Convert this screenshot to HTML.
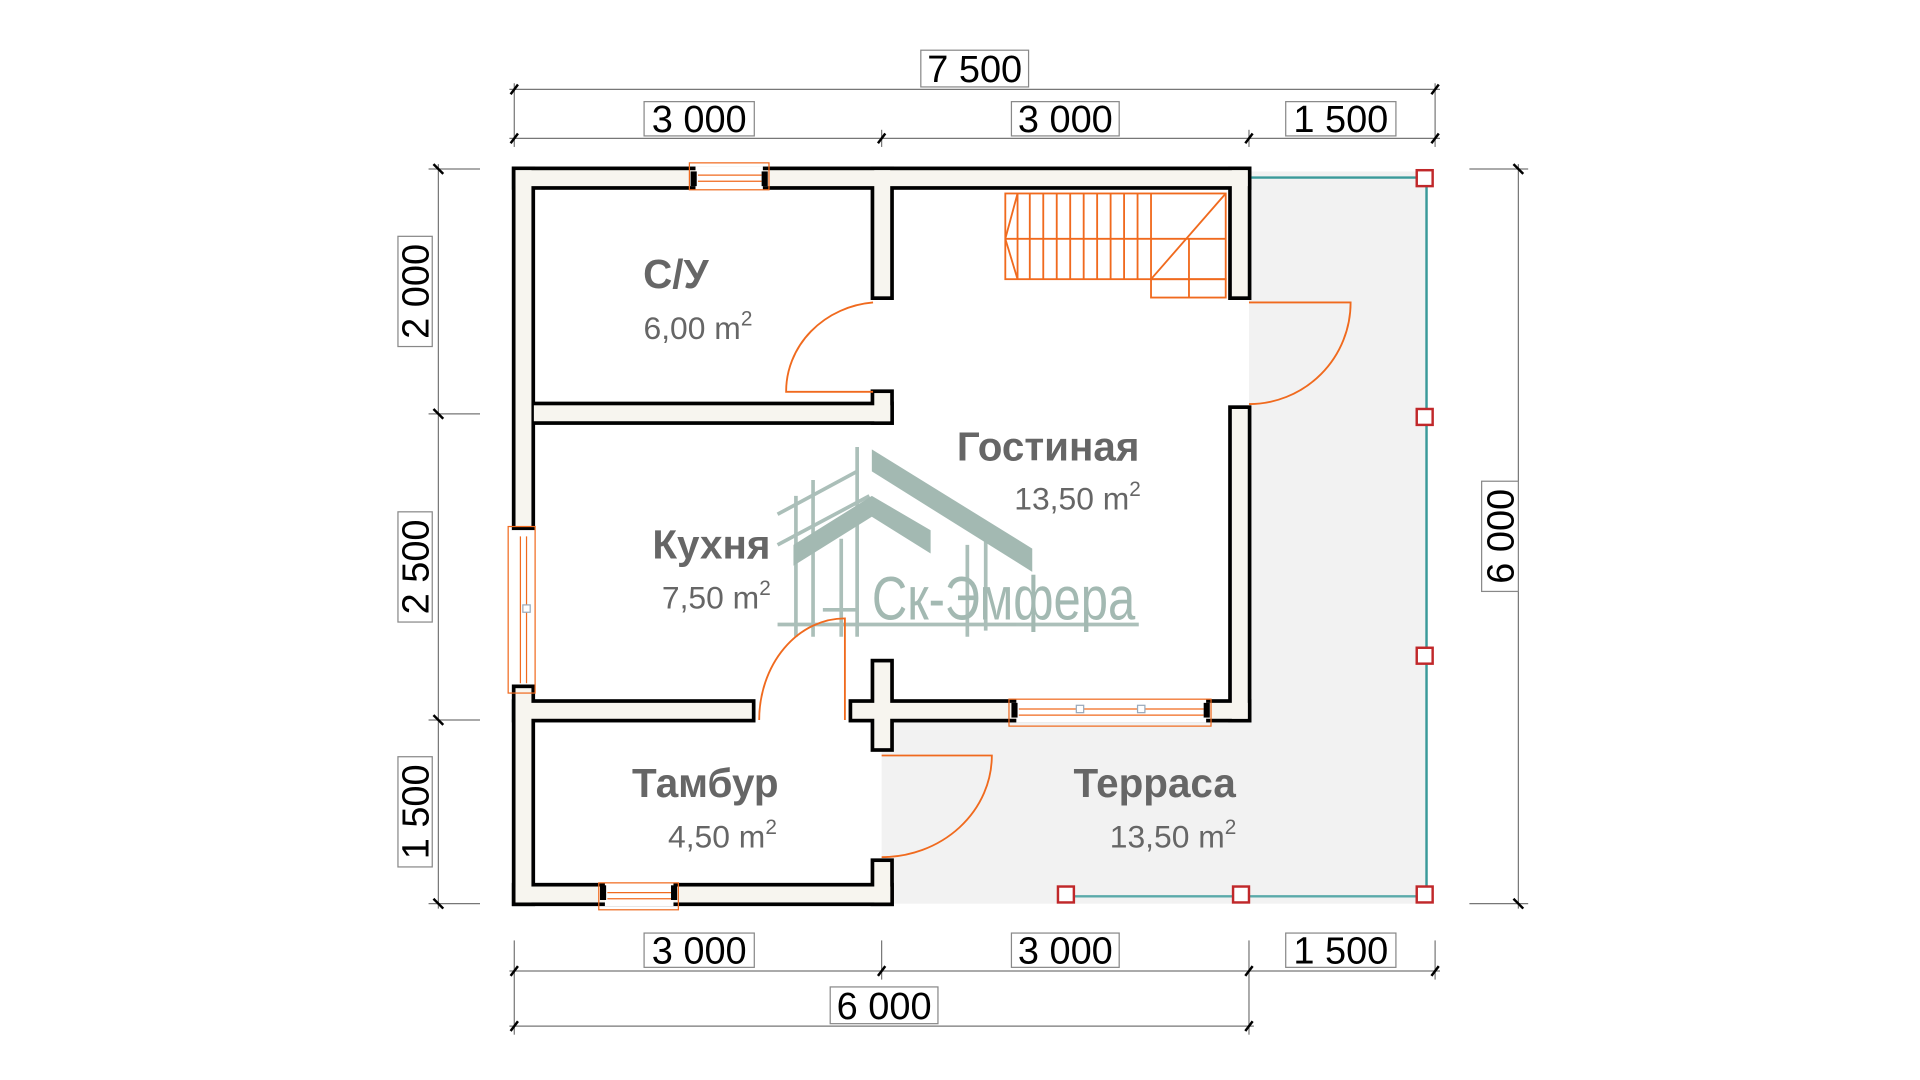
<!DOCTYPE html>
<html><head><meta charset="utf-8"><style>
html,body{margin:0;padding:0;background:#fff;}
svg{display:block;}
text{font-family:"Liberation Sans",sans-serif;}
</style></head><body>
<svg width="1920" height="1080" viewBox="0 0 1568 882" xmlns="http://www.w3.org/2000/svg">
<rect x="1020" y="140" width="145" height="598" fill="#f2f2f2"/>
<rect x="720" y="588" width="300" height="150" fill="#f2f2f2"/>

<g stroke="#a3b9b2" fill="none" opacity="0.9">
<line x1="650" y1="405" x2="650" y2="520" stroke-width="3"/>
<line x1="664" y1="392" x2="664" y2="520" stroke-width="3"/>
<line x1="700" y1="365" x2="700" y2="520" stroke-width="3"/>
<line x1="635" y1="420" x2="700" y2="385" stroke-width="3"/>
<line x1="635" y1="445" x2="710" y2="405" stroke-width="3"/>
<line x1="672" y1="498" x2="700" y2="498" stroke-width="3"/>
<line x1="790" y1="445" x2="790" y2="520" stroke-width="3"/>
<line x1="805" y1="440" x2="805" y2="515" stroke-width="3"/>
<line x1="635" y1="510" x2="930" y2="510" stroke-width="3"/>
<line x1="687" y1="440" x2="687" y2="520" stroke-width="3"/>
</g>
<polygon points="648,445 712,405 760,433 760,452 712,422 648,462" fill="#a3b9b2"/>
<polygon points="712,367 843,448 843,467 712,385" fill="#a3b9b2"/>
<text x="712" y="506" font-size="50" fill="#a3b9b2" transform="translate(712 0) scale(0.8 1) translate(-712 0)">Ск-Эмфера</text>

<g fill="#000">
<rect x="418" y="136" width="604" height="19"/>
<rect x="418" y="136" width="19" height="297"/>
<rect x="418" y="559" width="19" height="181"/>
<rect x="1003" y="136" width="19" height="109"/>
<rect x="1003" y="331" width="19" height="259"/>
<rect x="418" y="721" width="312" height="19"/>
<rect x="711" y="701" width="19" height="39"/>
<rect x="711" y="136" width="19" height="109"/>
<rect x="433" y="328" width="297" height="19"/>
<rect x="711" y="318" width="19" height="29"/>
<rect x="418" y="571" width="199" height="19"/>
<rect x="693" y="571" width="329" height="19"/>
<rect x="711" y="538" width="19" height="76"/>
</g>
<g fill="#f7f5ef">
<rect x="421" y="139" width="598" height="13"/>
<rect x="421" y="139" width="13" height="291"/>
<rect x="421" y="562" width="13" height="175"/>
<rect x="1006" y="139" width="13" height="103"/>
<rect x="1006" y="334" width="13" height="253"/>
<rect x="421" y="724" width="306" height="13"/>
<rect x="714" y="704" width="13" height="33"/>
<rect x="714" y="139" width="13" height="103"/>
<rect x="436" y="331" width="291" height="13"/>
<rect x="714" y="321" width="13" height="23"/>
<rect x="421" y="574" width="193" height="13"/>
<rect x="696" y="574" width="323" height="13"/>
<rect x="714" y="541" width="13" height="70"/>
</g>
<g>
<rect x="568" y="136" width="55" height="19" fill="#fff"/>
<rect x="563" y="133" width="65" height="22" fill="none" stroke="#f06a1e" stroke-width="1"/>
<line x1="570" y1="143" x2="622" y2="143" stroke="#f06a1e"/><line x1="570" y1="148" x2="622" y2="148" stroke="#f06a1e"/>
<rect x="564" y="140" width="5" height="12" fill="#000"/><rect x="622" y="140" width="5" height="12" fill="#000"/>

<rect x="418" y="433" width="19" height="126" fill="#fff"/>
<rect x="415" y="430" width="22" height="136" fill="none" stroke="#f06a1e"/>
<line x1="425" y1="438" x2="425" y2="558" stroke="#f06a1e"/><line x1="430" y1="438" x2="430" y2="558" stroke="#f06a1e"/>
<rect x="427" y="494" width="6" height="6" fill="#fff" stroke="#9ab"/>

<rect x="494" y="721" width="56" height="19" fill="#fff"/>
<rect x="489" y="721" width="65" height="22" fill="none" stroke="#f06a1e"/>
<line x1="496" y1="729" x2="548" y2="729" stroke="#f06a1e"/><line x1="496" y1="734" x2="548" y2="734" stroke="#f06a1e"/>
<rect x="490" y="723" width="5" height="12" fill="#000"/><rect x="548" y="723" width="5" height="12" fill="#000"/>

<rect x="830" y="571" width="155" height="19" fill="#fff"/>
<rect x="824" y="571" width="165" height="22" fill="none" stroke="#f06a1e"/>
<line x1="832" y1="579" x2="983" y2="579" stroke="#f06a1e"/><line x1="832" y1="584" x2="983" y2="584" stroke="#f06a1e"/>
<rect x="826" y="574" width="5" height="12" fill="#000"/><rect x="983" y="574" width="5" height="12" fill="#000"/>
<rect x="879" y="576" width="6" height="6" fill="#fff" stroke="#9ab"/><rect x="929" y="576" width="6" height="6" fill="#fff" stroke="#9ab"/>
</g>
<g stroke="#f06a1e" stroke-width="1.5" fill="none">
<path d="M713 247 A78 73 0 0 0 642 320 L713 320"/>
<path d="M1020 247 L1103 247 A83 83 0 0 1 1020 330"/>
<path d="M620 588 A70 83 0 0 1 690 505 L690 588"/>
<path d="M720 617 L810 617 A90 83 0 0 1 720 700"/>
</g>
<g stroke="#f06a1e" stroke-width="1.5" fill="none">
<rect x="821" y="158" width="180" height="70"/>
<rect x="940" y="228" width="61" height="15"/>
<line x1="821" y1="195" x2="1001" y2="195"/>
<line x1="821" y1="195" x2="831" y2="158"/><line x1="821" y1="195" x2="831" y2="228"/>
<line x1="940" y1="228" x2="1001" y2="158"/>
<line x1="831" y1="158" x2="831" y2="228"/><line x1="841" y1="158" x2="841" y2="228"/>
<line x1="852" y1="158" x2="852" y2="228"/><line x1="863" y1="158" x2="863" y2="228"/>
<line x1="874" y1="158" x2="874" y2="228"/><line x1="885" y1="158" x2="885" y2="228"/>
<line x1="896" y1="158" x2="896" y2="228"/><line x1="907" y1="158" x2="907" y2="228"/>
<line x1="918" y1="158" x2="918" y2="228"/><line x1="929" y1="158" x2="929" y2="228"/>
<line x1="940" y1="158" x2="940" y2="228"/><line x1="971" y1="195" x2="971" y2="243"/>
</g>
<g stroke="#3a9a9a" stroke-width="2" fill="none">
<line x1="1022" y1="145" x2="1163" y2="145"/>
<line x1="1165" y1="145" x2="1165" y2="730"/>
<line x1="870" y1="732" x2="1165" y2="732" stroke="#5aaaaa"/>
</g>
<g fill="#fff" stroke="#c0282a" stroke-width="2">
<rect x="1157" y="139" width="13" height="13"/>
<rect x="1157" y="334" width="13" height="13"/>
<rect x="1157" y="529" width="13" height="13"/>
<rect x="1157" y="724" width="13" height="13"/>
<rect x="1007" y="724" width="13" height="13"/>
<rect x="864" y="724" width="13" height="13"/>
</g>
<g fill="#666" font-weight="bold" font-size="33" text-anchor="middle">
<text x="552" y="235">С/У</text>
<text x="856" y="376">Гостиная</text>
<text x="581" y="456">Кухня</text>
<text x="576" y="651">Тамбур</text>
<text x="943" y="651">Терраса</text>
</g>
<g fill="#666" font-size="26" text-anchor="middle">
<text x="570" y="277">6,00 m<tspan font-size="17" dy="-11">2</tspan></text>
<text x="880" y="416">13,50 m<tspan font-size="17" dy="-11">2</tspan></text>
<text x="585" y="497">7,50 m<tspan font-size="17" dy="-11">2</tspan></text>
<text x="590" y="692">4,50 m<tspan font-size="17" dy="-11">2</tspan></text>
<text x="958" y="692">13,50 m<tspan font-size="17" dy="-11">2</tspan></text>
</g>
<g stroke="#777" stroke-width="1" fill="none">
<line x1="416" y1="73" x2="1176" y2="73"/>
<line x1="416" y1="113" x2="1176" y2="113"/>
<line x1="420" y1="68" x2="420" y2="120"/><line x1="1172" y1="68" x2="1172" y2="120"/>
<line x1="720" y1="106" x2="720" y2="120"/><line x1="1020" y1="106" x2="1020" y2="120"/>
<line x1="416" y1="793" x2="1176" y2="793"/>
<line x1="416" y1="838" x2="1024" y2="838"/>
<line x1="420" y1="768" x2="420" y2="845"/><line x1="720" y1="768" x2="720" y2="800"/>
<line x1="1020" y1="768" x2="1020" y2="845"/><line x1="1172" y1="768" x2="1172" y2="800"/>
<line x1="358" y1="134" x2="358" y2="742"/>
<line x1="350" y1="138" x2="392" y2="138"/><line x1="350" y1="338" x2="392" y2="338"/>
<line x1="350" y1="588" x2="392" y2="588"/><line x1="350" y1="738" x2="392" y2="738"/>
<line x1="1240" y1="134" x2="1240" y2="742"/>
<line x1="1200" y1="138" x2="1248" y2="138"/><line x1="1200" y1="738" x2="1248" y2="738"/>
</g>
<g stroke="#000" stroke-width="2">
<line x1="417" y1="77" x2="423" y2="69"/><line x1="1169" y1="77" x2="1175" y2="69"/>
<line x1="417" y1="117" x2="423" y2="109"/><line x1="717" y1="117" x2="723" y2="109"/><line x1="1017" y1="117" x2="1023" y2="109"/><line x1="1169" y1="117" x2="1175" y2="109"/>
<line x1="417" y1="797" x2="423" y2="789"/><line x1="717" y1="797" x2="723" y2="789"/><line x1="1017" y1="797" x2="1023" y2="789"/><line x1="1169" y1="797" x2="1175" y2="789"/>
<line x1="417" y1="842" x2="423" y2="834"/><line x1="1017" y1="842" x2="1023" y2="834"/>
<line x1="354" y1="134" x2="362" y2="142"/><line x1="354" y1="334" x2="362" y2="342"/><line x1="354" y1="584" x2="362" y2="592"/><line x1="354" y1="734" x2="362" y2="742"/>
<line x1="1236" y1="134" x2="1244" y2="142"/><line x1="1236" y1="734" x2="1244" y2="742"/>
</g>
<g fill="#fff" stroke="#888" stroke-width="1">
<rect x="752" y="41" width="88" height="30"/>
<rect x="526" y="83" width="90" height="28"/><rect x="826" y="83" width="88" height="28"/><rect x="1050" y="83" width="90" height="28"/>
<rect x="526" y="762" width="90" height="28"/><rect x="826" y="762" width="88" height="28"/><rect x="1050" y="762" width="90" height="28"/>
<rect x="678" y="806" width="88" height="30"/>
<rect x="325" y="193" width="28" height="90"/><rect x="325" y="418" width="28" height="90"/><rect x="325" y="618" width="28" height="90"/>
<rect x="1210" y="393" width="30" height="90"/>
</g>
<g fill="#000" font-size="31" text-anchor="middle">
<text x="796" y="67">7 500</text>
<text x="571" y="108">3 000</text><text x="870" y="108">3 000</text><text x="1095" y="108">1 500</text>
<text x="571" y="787">3 000</text><text x="870" y="787">3 000</text><text x="1095" y="787">1 500</text>
<text x="722" y="832">6 000</text>
<text transform="translate(350 238) rotate(-90)">2 000</text>
<text transform="translate(350 463) rotate(-90)">2 500</text>
<text transform="translate(350 663) rotate(-90)">1 500</text>
<text transform="translate(1236 438) rotate(-90)">6 000</text>
</g>
</svg>
</body></html>
